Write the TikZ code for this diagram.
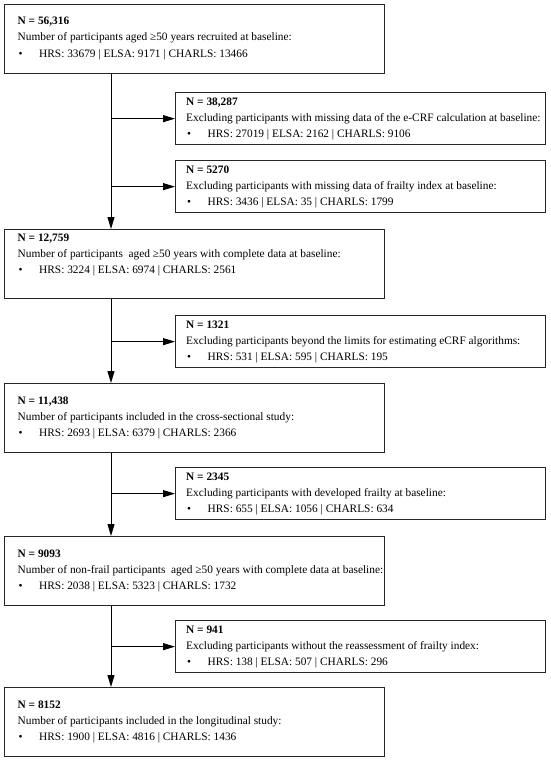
\documentclass[tikz,border=0pt]{standalone}
\usepackage{fontspec}
\setmainfont{Liberation Serif}
\usetikzlibrary{arrows.meta,calc}
\newcommand{\fsz}{\fontsize{11.35}{15}\selectfont}
\newcommand{\bul}{\makebox[21.5pt][l]{\hspace{1pt}•}}
% big box: #1 name, #2 x, #3 y, #4 first baseline offset, #5 title, #6 line 2, #7 line 3
\newcommand{\bigbox}[7]{%
  \node[boxst, minimum width=380pt, minimum height=69pt] (#1) at (#2,#3) {};
  \node[lbl] (#1t1) at ($(#1.north west)+(13.5,#4)$) {\textbf{#5}};
  \node[lbl] (#1t2) at ($(#1t1.base west)+(0,16)$) {#6};
  \node[lbl] (#1t3) at ($(#1t2.base west)+(0,16)$) {\bul#7};
}
\newcommand{\smallbox}[6]{%
  \node[boxst, minimum width=370pt, minimum height=52pt] (#1) at (#2,#3) {};
  \node[lbl] (#1t1) at ($(#1.north west)+(11,13.6)$) {\textbf{#4}};
  \node[lbl] (#1t2) at ($(#1t1.base west)+(0,15.7)$) {#5};
  \node[lbl] (#1t3) at ($(#1t2.base west)+(0,15.7)$) {\bul#6};
}
\begin{document}
\begin{tikzpicture}[x=1pt,y=-1pt]
\tikzset{
  boxst/.style={draw=black!85, line width=1.3pt, inner sep=0pt, anchor=north west, fill=white},
  lbl/.style={inner sep=0pt, anchor=base west, font=\fsz, text=black},
  conn/.style={line width=1pt, draw=black, -{Triangle[length=12pt,width=7pt]}},
}
\useasboundingbox (0,0) rectangle (550,760);
\fill[white] (0,0) rectangle (550,760);
\coordinate (v) at (111,0);

\bigbox{b1}{4}{4}{21}{N = 56,316}{Number of participants aged ≥50 years recruited at baseline:}{HRS: 33679 | ELSA: 9171 | CHARLS: 13466}
\smallbox{b2}{175}{92}{N = 38,287}{Excluding participants with missing data of the e-CRF calculation at baseline:}{HRS: 27019 | ELSA: 2162 | CHARLS: 9106}
\smallbox{b3}{175}{160}{N = 5270}{Excluding participants with missing data of frailty index at baseline:}{HRS: 3436 | ELSA: 35 | CHARLS: 1799}
\bigbox{b4}{4}{229}{12}{N = 12,759}{Number of participants~ aged ≥50 years with complete data at baseline:}{HRS: 3224 | ELSA: 6974 | CHARLS: 2561}
\smallbox{b5}{175}{315}{N = 1321}{Excluding participants beyond the limits for estimating eCRF algorithms:}{HRS: 531 | ELSA: 595 | CHARLS: 195}
\bigbox{b6}{4}{383}{21}{N = 11,438}{Number of participants included in the cross-sectional study:}{HRS: 2693 | ELSA: 6379 | CHARLS: 2366}
\smallbox{b7}{175}{467}{N = 2345}{Excluding participants with developed frailty at baseline:}{HRS: 655 | ELSA: 1056 | CHARLS: 634}
\bigbox{b8}{4}{536}{21}{N = 9093}{Number of non-frail participants~ aged ≥50 years with complete data at baseline:}{HRS: 2038 | ELSA: 5323 | CHARLS: 1732}
\smallbox{b9}{175}{620}{N = 941}{Excluding participants without the reassessment of frailty index:}{HRS: 138 | ELSA: 507 | CHARLS: 296}
\bigbox{b10}{4}{687}{21}{N = 8152}{Number of participants included in the longitudinal study:}{HRS: 1900 | ELSA: 4816 | CHARLS: 1436}

\draw[conn] (b1.south -| v) -- (b4.north -| v);
\draw[conn] (b2.west -| v) -- (b2.west);
\draw[conn] (b3.west -| v) -- (b3.west);
\draw[conn] (b4.south -| v) -- (b6.north -| v);
\draw[conn] (b5.west -| v) -- (b5.west);
\draw[conn] (b6.south -| v) -- (b8.north -| v);
\draw[conn] (b7.west -| v) -- (b7.west);
\draw[conn] (b8.south -| v) -- (b10.north -| v);
\draw[conn] (b9.west -| v) -- (b9.west);
\end{tikzpicture}
\end{document}
